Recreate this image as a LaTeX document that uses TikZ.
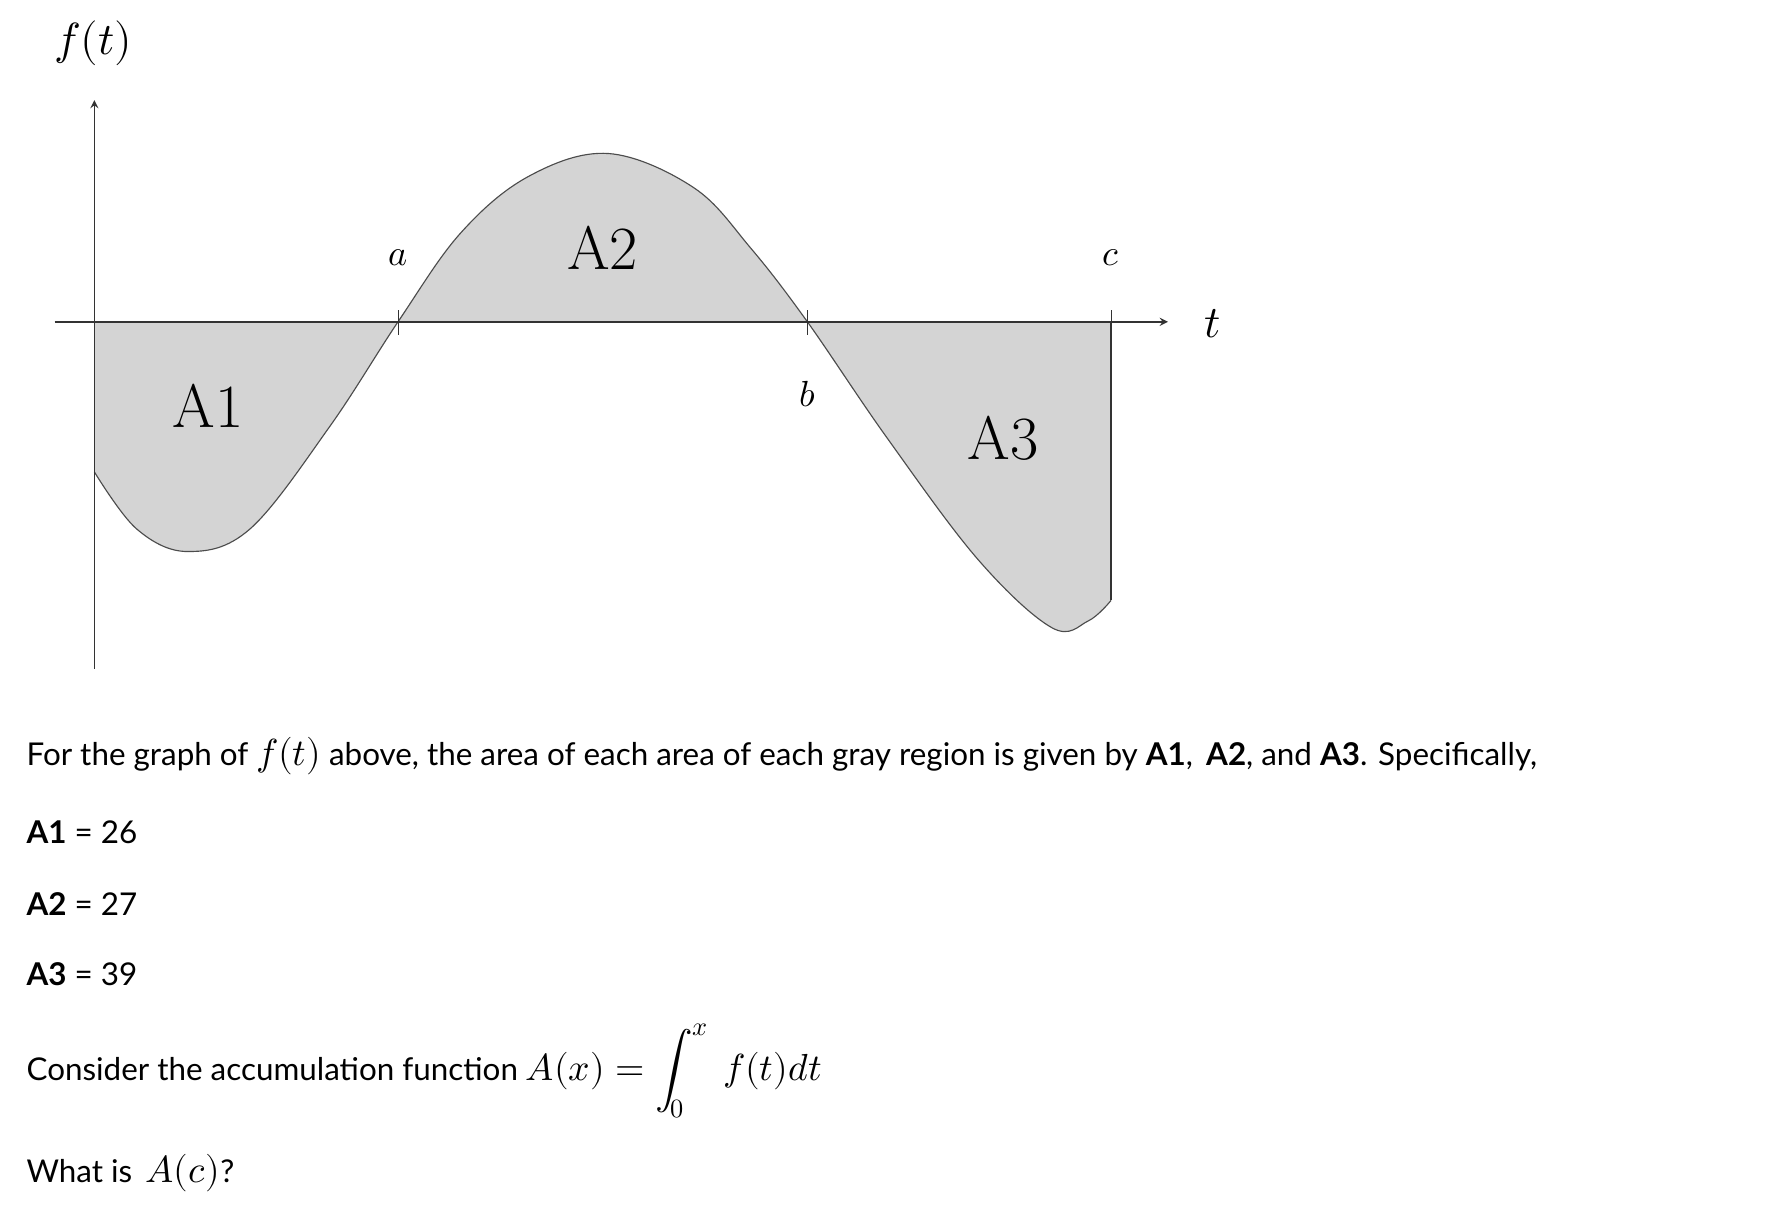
\documentclass[tikz,border=0pt]{standalone}
\usepackage{fontspec}
\setmainfont{Lato}
\usepackage{unicode-math}
\setmathfont{Latin Modern Math}[Scale=1.2]
\newfontfamily\lmr{Latin Modern Roman}
\begin{document}
\begin{tikzpicture}[x=0.5pt,y=-0.5pt,
  lbl/.style={font=\lmr\fontsize{27}{30}\selectfont,inner sep=0pt},
  sm/.style={font=\fontsize{13.3}{15}\selectfont,inner sep=0pt},
  txt/.style={font=\fontsize{13.8}{16}\selectfont,anchor=west,inner sep=0pt},
  crv/.style={draw=black!70,line width=0.5pt}]
\useasboundingbox (0,0) rectangle (1560,1064);
\fill[black!17] (83,283) -- plot[smooth,tension=0.6] coordinates{(83,415)(120,465)(165,485)(220,465)(290,375)(350,283)} -- cycle;
\fill[black!17] plot[smooth,tension=0.6] coordinates{(350,283)(405,205)(465,155)(535,135)(610,165)(660,218)(710,283)} -- cycle;
\fill[black!17] (977,283) -- plot[smooth,tension=0.6] coordinates{(710,283)(780,385)(860,492)(925,552)(957,546)(977,528)} -- cycle;
\draw[crv] plot[smooth,tension=0.6] coordinates{(83,415)(120,465)(165,485)(220,465)(290,375)(350,283)(405,205)(465,155)(535,135)(610,165)(660,218)(710,283)(780,385)(860,492)(925,552)(957,546)(977,528)};
\draw[black!80,line width=0.5pt] (977,283) -- (977,528);
\coordinate (yb) at (83,588); \coordinate (yt) at (83,88);
\coordinate (xl) at (48,283); \coordinate (xr) at (1027,283);
\draw[black!80,line width=0.6pt,->,>=stealth] (yb) -- (yt);
\draw[black!80,line width=0.6pt,->,>=stealth] (xl) -- (xr);
\foreach \p in {350,710,977} \draw[black!80] (\p,273) -- (\p,295);
\node[lbl] (fA1) at (183,357) {A1};
\node[lbl] (fA2) at (530,218) {A2};
\node[lbl] (fA3) at (882,385) {A3};
\node[sm] (la) at (350,227) {$a$};
\node[sm] (lb) at (710,347) {$b$};
\node[sm] (lc) at (977,227) {$c$};
\node[sm] (lt) at (1066,285) {\fontsize{16.5}{18}\selectfont$t$};
\node[sm] (lf) at (82,38) {\fontsize{16.5}{18}\selectfont$f(t)$};
\node[txt] (p1) at (23,665) {For the graph of $f(t)$ above, the area of each area of each gray region is given by \textbf{A1},\, \textbf{A2}, and \textbf{A3}. Specifically,};
\node[txt] (v1) at (23,732) {\textbf{A1} = 26};
\node[txt] (v2) at (23,795) {\textbf{A2} = 27};
\node[txt] (v3) at (23,857) {\textbf{A3} = 39};
\node[txt] (c1) at (23,942) {Consider the accumulation function $A(x)=\displaystyle\int_0^x\ f(t)dt$};
\node[txt] (w1) at (23,1032) {What is\, $A(c)$?};
\end{tikzpicture}
\end{document}
